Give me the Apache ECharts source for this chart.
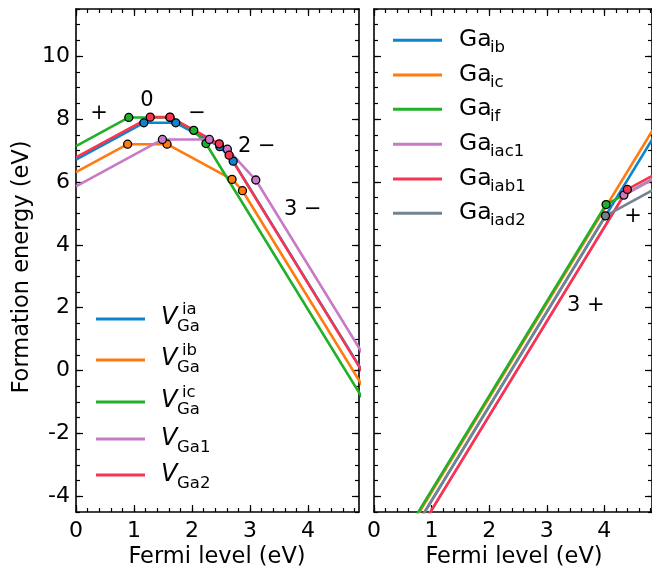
<!DOCTYPE html>
<html>
<head>
<meta charset="utf-8">
<script src="https://cdn.jsdelivr.net/npm/echarts@6/dist/echarts.min.js"></script>
<style>
  html, body { margin: 0; padding: 0; background: #fff; }
  #chart { width: 652px; height: 574px; }
</style>
</head>
<body>
<div id="chart"></div>
<script>
// tick labels
var xTicks = [0, 1, 2, 3, 4];
var yTicks = [-4, -2, 0, 2, 4, 6, 8, 10];

// left panel: Ga vacancies (Fermi level, formation energy)
var vIaX = [0, 1.17, 1.72, 2.48, 2.71, 5.0];
var vIaE = [6.71, 7.88, 7.88, 7.12, 6.66, -0.21];
var vIbX = [0, 0.89, 1.57, 2.69, 2.87, 5.0];
var vIbE = [6.31, 7.20, 7.20, 6.08, 5.72, -0.67];
var vIcX = [0, 0.91, 1.62, 2.03, 2.24, 5.0];
var vIcE = [7.14, 8.05, 8.05, 7.64, 7.22, -1.06];
var vGa1X = [0, 1.49, 2.30, 2.61, 3.10, 5.0];
var vGa1E = [5.86, 7.35, 7.35, 7.04, 6.06, 0.36];
var vGa2X = [0, 1.28, 1.62, 2.47, 2.64, 5.0];
var vGa2E = [6.78, 8.06, 8.06, 7.21, 6.85, -0.23];

// right panel: Ga interstitials
var iIbX = [0.7, 5.0];
var iIbE = [-5.04, 7.86];
var iIcX = [0.6, 5.0];
var iIcE = [-5.07, 8.13];
var iIfX = [0.6, 4.03, 5.0];
var iIfE = [-5.01, 5.28, 6.25];
var iIac1X = [0.8, 4.34, 5.0];
var iIac1E = [-5.04, 5.58, 6.24];
var iIab1X = [0.85, 4.40, 5.0];
var iIab1E = [-4.89, 5.76, 6.36];
var iIad2X = [0.7, 4.02, 5.0];
var iIad2E = [-5.04, 4.92, 5.90];

var colors = ['#0c85cf', '#ff7b0f', '#21b02a', '#c87ac6', '#fa3450', '#738390'];

var vacSup = ['ia', 'ib', 'ic', '', ''];
var vacSub = ['Ga', 'Ga', 'Ga', 'Ga1', 'Ga2'];
var intSub = ['ib', 'ic', 'if', 'iac1', 'iab1', 'iad2'];

var font = 'DejaVu Sans';
var chart = echarts.init(document.getElementById('chart'));

function pts(xs, es) {
  return xs.map(function (x, i) {
    var item = { value: [x, es[i]] };
    if (i === 0 || i === xs.length - 1) item.symbol = 'none';
    return item;
  });
}

function lineSeries(xs, es, color, axisIdx) {
  return {
    type: 'line',
    xAxisIndex: axisIdx,
    yAxisIndex: axisIdx,
    data: pts(xs, es),
    showAllSymbol: true,
    symbol: 'circle',
    symbolSize: 8,
    lineStyle: { color: color, width: 2.6 },
    itemStyle: { color: color, borderColor: '#000', borderWidth: 1.3 },
    clip: true,
    animation: false
  };
}

function range(a, b, step) {
  var out = [];
  for (var v = a; v <= b + 1e-9; v += step) out.push(Math.round(v * 100) / 100);
  return out;
}

var xMinor = range(0, 5, 0.2);
var yMinor = range(-4.5, 11.5, 0.5);

function xAx(grid, max, pos, major, labels) {
  return {
    gridIndex: grid, type: 'value', min: 0, max: max, position: pos,
    axisLine: { show: major, onZero: false, lineStyle: { color: '#000', width: 1.6 } },
    axisTick: { show: true, inside: true, length: major ? 7 : 4,
      lineStyle: { color: '#000', width: 1.2 }, customValues: major ? xTicks : xMinor },
    axisLabel: { show: labels, customValues: xTicks, margin: 8, color: '#000',
      fontFamily: font, fontSize: 22 },
    splitLine: { show: false }
  };
}

function yAx(grid, pos, major, labels) {
  return {
    gridIndex: grid, type: 'value', min: -4.5, max: 11.5, position: pos,
    axisLine: { show: major, onZero: false, lineStyle: { color: '#000', width: 1.6 } },
    axisTick: { show: true, inside: true, length: major ? 7 : 4,
      lineStyle: { color: '#000', width: 1.2 }, customValues: major ? yTicks : yMinor },
    axisLabel: { show: labels, customValues: yTicks, margin: 6, color: '#000',
      fontFamily: font, fontSize: 22 },
    splitLine: { show: false }
  };
}

var xAxes = [], yAxes = [];
[[0, 283 / 58, true], [1, 280 / 58, false]].forEach(function (g) {
  xAxes.push(xAx(g[0], g[1], 'bottom', true, true));
  xAxes.push(xAx(g[0], g[1], 'bottom', false, false));
  xAxes.push(xAx(g[0], g[1], 'top', true, false));
  xAxes.push(xAx(g[0], g[1], 'top', false, false));
  yAxes.push(yAx(g[0], 'left', true, g[2]));
  yAxes.push(yAx(g[0], 'left', false, false));
  yAxes.push(yAx(g[0], 'right', true, false));
  yAxes.push(yAx(g[0], 'right', false, false));
});

var series = [
  lineSeries(vIaX, vIaE, colors[0], 0),
  lineSeries(vIbX, vIbE, colors[1], 0),
  lineSeries(vIcX, vIcE, colors[2], 0),
  lineSeries(vGa1X, vGa1E, colors[3], 0),
  lineSeries(vGa2X, vGa2E, colors[4], 0),
  lineSeries(iIbX, iIbE, colors[0], 4),
  lineSeries(iIcX, iIcE, colors[1], 4),
  lineSeries(iIfX, iIfE, colors[2], 4),
  lineSeries(iIac1X, iIac1E, colors[3], 4),
  lineSeries(iIab1X, iIab1E, colors[4], 4),
  lineSeries(iIad2X, iIad2E, colors[5], 4)
];

function txt(x, y, s, size, extra) {
  var style = { text: s, x: 0, y: 0, fill: '#000', fontFamily: font, fontSize: size,
    align: 'left', verticalAlign: 'middle' };
  if (extra) for (var k in extra) style[k] = extra[k];
  return { type: 'text', x: x, y: y, style: style, z: 10 };
}

var graphics = [];
// axis titles
graphics.push(txt(217, 557, 'Fermi level (eV)', 22.5, { align: 'center' }));
graphics.push(txt(514, 557, 'Fermi level (eV)', 22.5, { align: 'center' }));
var yt = txt(22, 267, 'Formation energy (eV)', 22.5, { align: 'center' });
yt.rotation = Math.PI / 2;
graphics.push(yt);

// charge state labels
graphics.push(txt(99, 114, '+', 21, { align: 'center' }));
graphics.push(txt(147, 101, '0', 21, { align: 'center' }));
graphics.push(txt(197, 114, '\u2212', 21, { align: 'center' }));
graphics.push(txt(238, 147, '2 \u2212', 21));
graphics.push(txt(284, 210, '3 \u2212', 21));
graphics.push(txt(567, 306, '3 +', 21));
graphics.push(txt(633, 217, '+', 21, { align: 'center' }));

// left legend
var vacLineY = [319, 360, 402, 439, 475];
vacLineY.forEach(function (ly, i) {
  graphics.push({ type: 'line', shape: { x1: 96, y1: ly, x2: 145, y2: ly },
    style: { stroke: colors[i], lineWidth: 3 }, z: 10 });
  var vy = ly - (vacSup[i] ? 1.6 : 0.5);
  graphics.push(txt(161, vy, 'V', 24, { fontStyle: 'italic' }));
  graphics.push(txt(177, vy + 9, vacSub[i], 16.5));
  if (vacSup[i]) graphics.push(txt(182, vy - 7.5, vacSup[i], 16.5));
});

// right legend
var intLineY = [40.3, 75, 109.3, 144.3, 179, 213.3];
intLineY.forEach(function (ly, i) {
  graphics.push({ type: 'line', shape: { x1: 393, y1: ly, x2: 442, y2: ly },
    style: { stroke: colors[i], lineWidth: 3 }, z: 10 });
  graphics.push(txt(459, ly, 'Ga', 23.5));
  graphics.push(txt(490, ly + 7.5, intSub[i], 16.5));
});

chart.setOption({
  animation: false,
  grid: [
    { left: 76, top: 9, width: 283, height: 503, containLabel: false },
    { left: 374, top: 9, width: 280, height: 503, containLabel: false }
  ],
  xAxis: xAxes,
  yAxis: yAxes,
  series: series,
  graphic: graphics
});
</script>
</body>
</html>
